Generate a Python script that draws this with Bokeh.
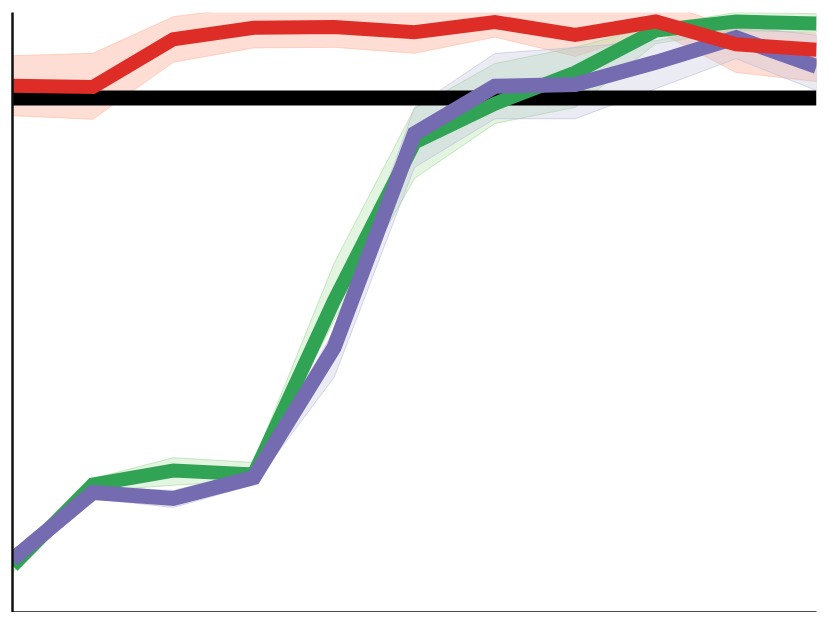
from bokeh.plotting import figure
from bokeh.models import Range1d, FixedTicker
from bokeh.embed import file_html
from bokeh.resources import INLINE

# data
steps = [0, 1, 2, 3, 4, 5, 6, 7, 8, 9, 10]
baseline = 0.8575

red_mean  = [0.878, 0.876, 0.9555, 0.9745, 0.976, 0.967, 0.984, 0.9625, 0.985, 0.947, 0.938]
red_upper = [0.928, 0.932, 0.993, 1.01, 1.01, 1.007, 1.015, 1.012, 1.02, 0.973, 0.965]
red_lower = [0.828, 0.822, 0.917, 0.941, 0.942, 0.932, 0.959, 0.927, 0.97, 0.90, 0.885]

green_mean  = [0.078, 0.2133, 0.2367, 0.23, 0.52, 0.7833, 0.848, 0.90, 0.97, 0.985, 0.9817]
green_upper = [0.087, 0.223, 0.258, 0.25, 0.582, 0.84, 0.915, 0.942, 0.978, 1.0, 0.998]
green_lower = [0.067, 0.203, 0.212, 0.22, 0.487, 0.7233, 0.815, 0.842, 0.948, 0.97, 0.967]

purple_mean  = [0.0883, 0.20, 0.19, 0.225, 0.4417, 0.798, 0.877, 0.88, 0.917, 0.958, 0.91]
purple_upper = [0.098, 0.21, 0.2033, 0.2367, 0.47, 0.8417, 0.9317, 0.9417, 0.953, 0.978, 0.962]
purple_lower = [0.0767, 0.19, 0.175, 0.2133, 0.3917, 0.7417, 0.823, 0.823, 0.873, 0.923, 0.87]

p = figure(frame_width=804, frame_height=600, output_backend="svg", toolbar_location=None,
           x_range=Range1d(0, 10), y_range=Range1d(0, 1),
           min_border_left=12, min_border_right=5, min_border_top=12, min_border_bottom=0,
           background_fill_color="white", border_fill_color="white", outline_line_color=None)
p.grid.visible = False
for ax in (p.xaxis, p.yaxis):
    ax.ticker = FixedTicker(ticks=[])
    ax.major_tick_line_color = None
    ax.minor_tick_line_color = None
    ax.major_label_text_font_size = "0pt"
    ax.axis_line_color = "#111111"
    ax.axis_line_width = 2.5

bands = [
    (red_upper, red_lower, "#fc9272", "#fcbba1"),
    (green_upper, green_lower, "#a1d99b", "#a1d99b"),
    (purple_upper, purple_lower, "#bcbddc", "#bcbddc"),
]
for up, lo, fc, lc in bands:
    xs = steps + steps[::-1]
    ys = up + lo[::-1]
    p.patch(xs, ys, fill_color=fc, fill_alpha=0.3, line_color=lc, line_alpha=0.6, line_width=1)

p.line([steps[0], steps[-1]], [baseline, baseline], line_color="black", line_width=15)
p.line(steps, green_mean, line_color="#31a354", line_width=14, line_join="miter")
p.line(steps, purple_mean, line_color="#756bb1", line_width=15, line_join="miter")
p.line(steps, red_mean, line_color="#de2d26", line_width=14, line_join="miter")

open("out.html", "w").write(file_html(p, INLINE))
